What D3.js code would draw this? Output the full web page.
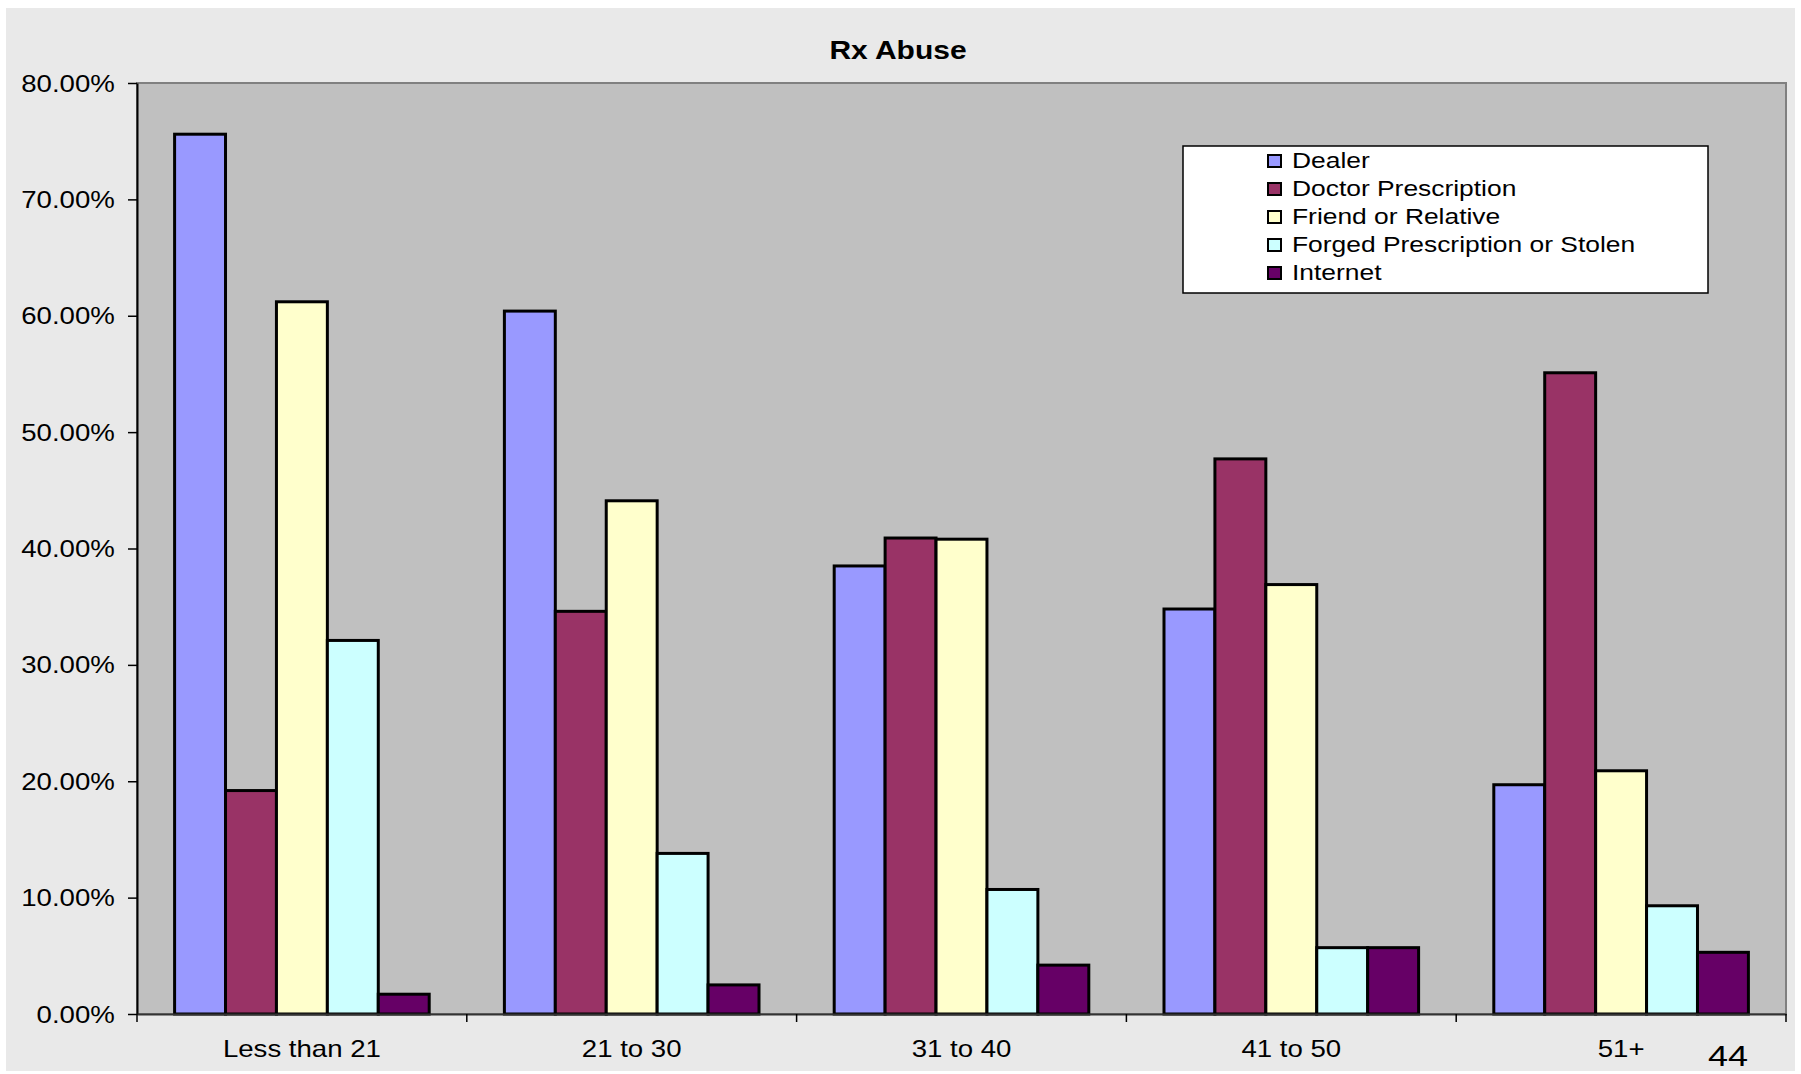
<!DOCTYPE html>
<html>
<head>
<meta charset="utf-8">
<script src="https://cdn.jsdelivr.net/npm/d3@7/dist/d3.min.js"></script>
<style>
  html, body { margin: 0; padding: 0; background: #ffffff; }
  svg { display: block; }
  text { font-family: Arial, "Liberation Sans", sans-serif; fill: #000; }
</style>
</head>
<body>
<svg id="chart" width="1801" height="1074"></svg>
<script>
// ---- data ----
const title = "Rx Abuse";
const categories = ["Less than 21", "21 to 30", "31 to 40", "41 to 50", "51+"];
const seriesNames = ["Dealer", "Doctor Prescription", "Friend or Relative", "Forged Prescription or Stolen", "Internet"];
const dealer   = [75.6, 60.4, 38.5, 34.8, 19.7];
const doctor   = [19.2, 34.6, 40.9, 47.7, 55.1];
const friend   = [61.2, 44.1, 40.8, 36.9, 20.9];
const forged   = [32.1, 13.8, 10.7, 5.7, 9.3];
const internet = [1.7, 2.5, 4.2, 5.7, 5.3];
const yTicks = [0, 10, 20, 30, 40, 50, 60, 70, 80];
const pageNumber = "44";

const seriesValues = [dealer, doctor, friend, forged, internet];
const colors = ["#9999FF", "#993366", "#FFFFCC", "#CCFFFF", "#660066"];
const SX = 1.2; // horizontal text stretch seen in the reference

const svg = d3.select("#chart");

// outer panel
svg.append("rect").attr("x", 6).attr("y", 8).attr("width", 1789).attr("height", 1063).attr("fill", "#e9e9e9");

const plot = { left: 137, right: 1786, top: 83, bottom: 1014 };

const x0 = d3.scaleBand().domain(categories).range([plot.left, plot.right]).padding(0);
const bw = x0.bandwidth();
const x1 = d3.scaleBand().domain(seriesNames).range([bw * 0.114, bw * 0.886]).padding(0);
const y = d3.scaleLinear().domain([0, 80]).range([plot.bottom, plot.top]);

// plot background
svg.append("rect")
  .attr("x", plot.left).attr("y", plot.top)
  .attr("width", plot.right - plot.left).attr("height", plot.bottom - plot.top)
  .attr("fill", "#c0c0c0").attr("stroke", "#808080").attr("stroke-width", 2);

// title
svg.append("text")
  .attr("transform", `translate(898,59) scale(${SX},1)`)
  .attr("text-anchor", "middle").attr("font-size", 25).attr("font-weight", "bold")
  .text(title);

// bars
const data = categories.map((c, i) => ({ cat: c, vals: seriesNames.map((s, j) => ({ s, v: seriesValues[j][i], color: colors[j] })) }));
const groups = svg.append("g").selectAll("g").data(data).join("g")
  .attr("transform", d => `translate(${x0(d.cat)},0)`);
groups.selectAll("rect").data(d => d.vals).join("rect")
  .attr("x", d => x1(d.s))
  .attr("y", d => y(d.v))
  .attr("width", x1.bandwidth())
  .attr("height", d => y(0) - y(d.v))
  .attr("fill", d => d.color)
  .attr("stroke", "#000").attr("stroke-width", 3);

// y axis
const yAxis = svg.append("g").attr("transform", `translate(${plot.left},0)`)
  .call(d3.axisLeft(y).tickValues(yTicks).tickFormat(d => d.toFixed(2) + "%").tickSize(9).tickSizeOuter(0));
yAxis.select(".domain").attr("stroke", "#000").attr("stroke-width", 2);
yAxis.selectAll(".tick line").attr("stroke", "#000").attr("stroke-width", 1.5);
yAxis.selectAll(".tick text")
  .attr("font-size", 23).attr("font-family", "Arial, 'Liberation Sans', sans-serif").attr("fill", "#000")
  .attr("x", -18.5).attr("dy", "0.35em")
  .attr("transform", `scale(${SX},1)`);

// x axis: labels under band centers
const xAxis = svg.append("g").attr("transform", `translate(0,${plot.bottom})`)
  .call(d3.axisBottom(x0).tickSize(0).tickSizeOuter(0));
xAxis.select(".domain").attr("stroke", "#333").attr("stroke-width", 2);
xAxis.selectAll(".tick text")
  .attr("font-size", 23).attr("font-family", "Arial, 'Liberation Sans', sans-serif").attr("fill", "#000")
  .attr("y", 0).attr("dy", 0)
  .attr("transform", `translate(0,43) scale(${SX},1)`);
// boundary ticks between categories
const boundaries = categories.map(c => x0(c)).concat([x0(categories[categories.length - 1]) + x0.step()]);
svg.append("g").selectAll("line").data(boundaries).join("line")
  .attr("x1", d => d).attr("x2", d => d)
  .attr("y1", plot.bottom).attr("y2", plot.bottom + 8)
  .attr("stroke", "#000").attr("stroke-width", 1.5);

// legend
const lg = svg.append("g");
lg.append("rect").attr("x", 1183).attr("y", 146).attr("width", 525).attr("height", 147)
  .attr("fill", "#fff").attr("stroke", "#000").attr("stroke-width", 1.5);
const items = lg.selectAll("g.item").data(seriesNames).join("g").attr("class", "item")
  .attr("transform", (d, i) => `translate(1268,${160 + i * 28})`);
items.append("rect").attr("x", 0).attr("y", -5).attr("width", 13).attr("height", 12)
  .attr("fill", (d, i) => colors[i]).attr("stroke", "#000").attr("stroke-width", 2);
items.append("text")
  .attr("transform", `translate(24,8) scale(${SX},1)`)
  .attr("font-size", 22).text(d => d);

// page number
svg.append("text")
  .attr("transform", `translate(1728,1066) scale(${SX},1)`)
  .attr("text-anchor", "middle").attr("font-size", 30).text(pageNumber);
</script>
</body>
</html>
